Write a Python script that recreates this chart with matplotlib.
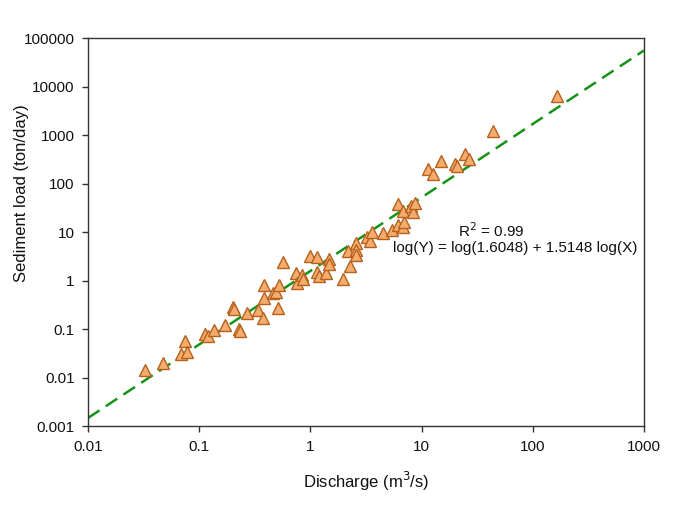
import numpy as np
import matplotlib
matplotlib.use("Agg")
import matplotlib.pyplot as plt
from matplotlib.ticker import FixedLocator, NullLocator

plt.rcParams['font.family'] = ['Liberation Sans', 'DejaVu Sans']

# discharge (m3/s) and sediment load (ton/day)
discharge = [0.0326, 0.0475, 0.0738, 0.0683, 0.0776, 0.113, 0.121, 0.136, 0.171,
             0.201, 0.206, 0.230, 0.235, 0.271, 0.340, 0.375, 0.383, 0.383,
             0.458, 0.491, 0.525, 0.514, 0.570, 0.743, 0.754, 0.836, 0.857,
             0.991, 1.153, 1.135, 1.202, 1.381, 1.469, 1.479, 1.964, 2.248,
             2.178, 2.57, 2.546, 2.57, 3.26, 3.44, 3.56, 4.47, 5.38, 6.14,
             6.81, 6.95, 6.07, 6.84, 7.98, 8.32, 8.73, 11.5, 12.7, 14.9,
             19.95, 20.8, 24.5, 26.9, 43.6, 166.0]
sediment = [0.0146, 0.0208, 0.0586, 0.0305, 0.0347, 0.0805, 0.0733, 0.0989, 0.124,
            0.286, 0.258, 0.103, 0.0951, 0.223, 0.246, 0.170, 0.435, 0.824,
            0.571, 0.600, 0.817, 0.277, 2.49, 1.455, 0.893, 1.324, 1.12,
            3.34, 3.04, 1.549, 1.292, 1.455, 2.856, 2.23, 1.094, 2.03,
            4.23, 6.13, 4.34, 3.42, 8.15, 6.58, 10.2, 9.7, 11.0, 14.2,
            12.7, 16.7, 37.6, 28.2, 34.5, 26.3, 39.4, 204, 156, 296,
            256, 228, 412, 318, 1245, 6460]

# fitted relation log(Y) = log(a) + b log(X)
a_coef = 1.6048
b_coef = 1.5148
r2 = 0.99

x_ticks = [0.01, 0.1, 1, 10, 100, 1000]
x_labels = ['0.01', '0.1', '1', '10', '100', '1000']
y_ticks = [0.001, 0.01, 0.1, 1, 10, 100, 1000, 10000, 100000]
y_labels = ['0.001', '0.01', '0.1', '1', '10', '100', '1000', '10000', '100000']

fig = plt.figure(figsize=(6.97, 5.21), dpi=100)
ax = fig.add_axes([0.1263, 0.1814, 0.7977, 0.7451])

xfit = np.logspace(-2, 3, 200)
yfit = a_coef * xfit ** b_coef
ax.plot(xfit, yfit, color='#169316', linewidth=1.8, dashes=(5.5, 3), zorder=2)

ax.plot(discharge, sediment, linestyle='none', marker='^', markersize=8,
        markerfacecolor='#F5AC6C', markeredgecolor='#B5611E', markeredgewidth=1.0,
        zorder=3)

ax.set_xscale('log')
ax.set_yscale('log')
ax.set_xlim(0.01, 1000)
ax.set_ylim(0.001, 100000)

ax.xaxis.set_major_locator(FixedLocator(x_ticks))
ax.xaxis.set_minor_locator(NullLocator())
ax.set_xticklabels(x_labels)
ax.yaxis.set_major_locator(FixedLocator(y_ticks))
ax.yaxis.set_minor_locator(NullLocator())
ax.set_yticklabels(y_labels)

for sp in ax.spines.values():
    sp.set_color('#333333')
    sp.set_linewidth(1.0)
ax.tick_params(axis='both', direction='out', length=4.5, width=1.0,
               color='#333333', labelsize=11, pad=5, labelcolor='#111111')

ax.set_xlabel('Discharge (m$^3$/s)', fontsize=12, labelpad=12, color='#111111')
ax.set_ylabel('Sediment load (ton/day)', fontsize=12, color='#111111')
ax.yaxis.set_label_coords(-0.106, 0.60)

ax.text(0.726, 0.5036, f'R$^2$ = {r2:.2f}', transform=ax.transAxes,
        ha='center', va='center', fontsize=11, color='#111111')
ax.text(0.769, 0.459, f'log(Y) = log({a_coef:.4f}) + {b_coef:.4f} log(X)',
        transform=ax.transAxes, ha='center', va='center', fontsize=11,
        color='#111111')

fig.savefig('out.png', dpi=100)
